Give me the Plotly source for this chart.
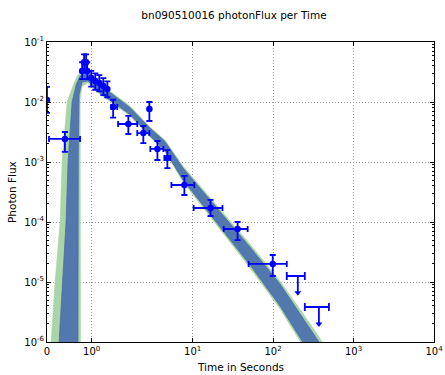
import numpy as np
import plotly.graph_objects as go

# ---------------- data ----------------
# measured points: time [s], flux, time low/high, flux low/high
pt_t    = [0.0, 0.40, 0.786, 0.83, 0.875, 0.90, 0.99, 1.08, 1.17, 1.26, 1.35, 1.48, 1.82, 2.44, 2.9, 3.65, 4.85, 7.9, 16.7, 36.2, 99.0]
pt_t_lo = [0.0, 0.045, 0.786, 0.83, 0.875, 0.90, 0.99, 1.08, 1.17, 1.26, 1.35, 1.436, 1.59, 2.05, 2.9, 2.98, 4.45, 5.45, 10.3, 24.3, 49.7]
pt_t_hi = [0.0, 0.74, 0.786, 0.83, 0.875, 0.90, 0.99, 1.08, 1.17, 1.26, 1.35, 1.571, 2.05, 2.9, 2.9, 4.33, 5.3, 10.5, 23.5, 48.3, 148.0]
pt_v    = [0.0108, 0.00242, 0.033, 0.046, 0.046, 0.033, 0.025, 0.0224, 0.0207, 0.0185, 0.0165, 0.00825, 0.0043, 0.00304, 0.00764, 0.00165, 0.00117, 4.14e-4, 1.71e-4, 7.65e-5, 2.0e-5]
pt_v_lo = [0.0066, 0.00147, 0.024, 0.033, 0.033, 0.024, 0.018, 0.016, 0.015, 0.013, 0.012, 0.0055, 0.00293, 0.00207, 0.00482, 0.00108, 0.00079, 2.82e-4, 1.26e-4, 5.0e-5, 1.26e-5]
pt_v_hi = [0.0178, 0.00316, 0.046, 0.062, 0.062, 0.046, 0.033, 0.030, 0.028, 0.025, 0.022, 0.0109, 0.00585, 0.00398, 0.0100, 0.00224, 0.00158, 5.85e-4, 2.33e-4, 1.0e-4, 2.82e-5]

# upper limits
ul_t    = [203.0, 371.0]
ul_t_lo = [148.0, 248.0]
ul_t_hi = [248.0, 494.0]
ul_v    = [1.26e-5, 3.83e-6]
ul_arrow = [6.6e-6, 2.0e-6]

# model bands (upper edge ascending in time, lower edge descending)
blue_up_t = [0.24, 0.27, 0.359, 0.426, 0.471, 0.561, 0.651, 0.741, 0.853, 0.917, 1.186, 1.521, 1.857, 2.95, 4.53, 7.59, 16.4, 51.6, 122, 296, 1202]
blue_up_v = [4e-7, 1e-6, 1e-5, 1e-4, 1e-3, 1e-2, 0.0192, 0.0271, 0.0305, 0.0305, 0.0192, 0.0126, 0.00809, 0.00369, 0.0022, 7.94e-4, 2.37e-4, 3.83e-5, 9.27e-6, 1.65e-6, 9.6e-8]
blue_lo_t = [1202, 296, 122, 51.6, 16.4, 7.59, 4.53, 2.95, 1.857, 1.521, 1.186, 0.917, 0.786, 0.718, 0.70, 0.69]
blue_lo_v = [3.04e-8, 6.07e-7, 3.98e-6, 1.92e-5, 1.33e-4, 5.01e-4, 1.56e-3, 2.71e-3, 6.19e-3, 9.25e-3, 0.0141, 0.0224, 0.0215, 0.0131, 1.58e-3, 1e-7]

green_up_t = [0.05, 0.09, 0.18, 0.292, 0.337, 0.449, 0.561, 0.673, 0.786, 0.917, 1.186, 1.521, 1.857, 2.95, 4.53, 7.59, 16.4, 51.6, 122, 296, 1202]
green_up_v = [5e-7, 1e-6, 1e-5, 1e-4, 1e-3, 1e-2, 0.0171, 0.0271, 0.0329, 0.0329, 0.0204, 0.0133, 0.00857, 0.00383, 0.00233, 8.57e-4, 2.61e-4, 4.3e-5, 1.04e-5, 1.92e-6, 1.12e-7]
green_lo_t = [1202, 296, 122, 51.6, 16.4, 7.59, 4.53, 2.95, 1.857, 1.521, 1.186, 0.917, 0.786, 0.741, 0.745, 0.755]
green_lo_v = [2.61e-8, 5.21e-7, 3.55e-6, 1.71e-5, 1.21e-4, 4.65e-4, 1.47e-3, 2.61e-3, 5.85e-3, 8.73e-3, 0.0133, 0.0207, 0.0185, 0.0108, 1e-3, 1e-7]

x_tick_vals = [0, 1, 10, 100, 1000, 10000]
x_tick_text = ["0", "10<sup>0</sup>", "10<sup>1</sup>", "10<sup>2</sup>", "10<sup>3</sup>", "10<sup>4</sup>"]
y_tick_vals = [1e-6, 1e-5, 1e-4, 1e-3, 1e-2, 1e-1]
y_tick_text = ["10<sup>-6</sup>", "10<sup>-5</sup>", "10<sup>-4</sup>", "10<sup>-3</sup>", "10<sup>-2</sup>", "10<sup>-1</sup>"]

# ---------------- symlog x scale (linthresh=2, linscale=1) ----------------
LINTHRESH = 2.0
LINSCALE_ADJ = 1.0 / (1.0 - 1.0 / 10.0)


def symlog(t):
    t = np.asarray(t, dtype=float)
    a = np.abs(t)
    out = np.where(a <= LINTHRESH, t * LINSCALE_ADJ,
                   np.sign(t) * LINTHRESH * (LINSCALE_ADJ + np.log10(np.maximum(a, 1e-12) / LINTHRESH)))
    return out


FONT = "DejaVu Sans"
BLUE = "#0000ff"

fig = go.Figure()

# green band
gx = np.concatenate([symlog(green_up_t), symlog(green_lo_t)])
gy = np.concatenate([green_up_v, green_lo_v])
fig.add_trace(go.Scatter(x=gx, y=gy, fill="toself", mode="lines",
                         fillcolor="rgb(170,213,167)", line=dict(color="rgb(170,213,167)", width=0.5),
                         hoverinfo="skip", showlegend=False))
# blue band
bx = np.concatenate([symlog(blue_up_t), symlog(blue_lo_t)])
by = np.concatenate([blue_up_v, blue_lo_v])
fig.add_trace(go.Scatter(x=bx, y=by, fill="toself", mode="lines",
                         fillcolor="rgb(82,120,174)", line=dict(color="rgb(70,105,165)", width=0.7),
                         hoverinfo="skip", showlegend=False))

# data points
px = symlog(pt_t)
ex_p = symlog(pt_t_hi) - px
ex_m = px - symlog(pt_t_lo)
ey_p = np.array(pt_v_hi) - np.array(pt_v)
ey_m = np.array(pt_v) - np.array(pt_v_lo)
fig.add_trace(go.Scatter(
    x=px, y=pt_v, mode="markers",
    marker=dict(color=BLUE, size=6.5, symbol="circle"),
    error_x=dict(type="data", symmetric=False, array=ex_p, arrayminus=ex_m,
                 color=BLUE, thickness=1.8, width=3),
    error_y=dict(type="data", symmetric=False, array=ey_p, arrayminus=ey_m,
                 color=BLUE, thickness=1.8, width=3),
    showlegend=False, hoverinfo="skip"))

# upper limits: horizontal bar + downward arrow
ux = symlog(ul_t)
fig.add_trace(go.Scatter(
    x=ux, y=ul_v, mode="markers",
    marker=dict(color=BLUE, size=1, opacity=0),
    error_x=dict(type="data", symmetric=False, array=symlog(ul_t_hi) - ux, arrayminus=ux - symlog(ul_t_lo),
                 color=BLUE, thickness=1.8, width=4),
    error_y=dict(type="data", symmetric=False, array=[0, 0],
                 arrayminus=np.array(ul_v) - np.array(ul_arrow), color=BLUE, thickness=1.8, width=0),
    showlegend=False, hoverinfo="skip"))
fig.add_trace(go.Scatter(
    x=ux, y=ul_arrow, mode="markers",
    marker=dict(color=BLUE, size=6, symbol="triangle-down"),
    showlegend=False, hoverinfo="skip"))

axis_common = dict(showline=True, linecolor="black", linewidth=1, mirror="allticks",
                   ticks="inside", ticklen=4, tickcolor="black", automargin=False,
                   showgrid=True, gridcolor="rgb(150,150,150)", griddash="1px,2px", gridwidth=1,
                   zeroline=False, tickfont=dict(family=FONT, size=10, color="black"))

fig.update_xaxes(type="linear", range=[0, float(symlog(1e4))],
                 tickmode="array", tickvals=symlog(x_tick_vals).tolist(), ticktext=x_tick_text,
                 **axis_common)
fig.update_yaxes(type="log", range=[-6, -1],
                 tickmode="array", tickvals=y_tick_vals, ticktext=y_tick_text,
                 minor=dict(ticks="inside", ticklen=2, tickcolor="black", showgrid=False, dtick="D1"),
                 **axis_common)

fig.update_layout(
    width=445, height=375,
    margin=dict(l=47, r=11, t=42, b=33),
    paper_bgcolor="white", plot_bgcolor="white",
    title=dict(text="bn090510016 photonFlux per Time", x=234 / 445, xanchor="center", xref="container",
               y=1 - 15 / 375, yanchor="middle", yref="container",
               font=dict(family=FONT, size=10.5, color="black")),
    font=dict(family=FONT, color="black"),
    showlegend=False,
    annotations=[
        dict(text="Time in Seconds", xref="paper", yref="paper", x=0.5, y=-(367 - 342) / 300,
             xanchor="center", yanchor="middle", showarrow=False,
             font=dict(family=FONT, size=10.5, color="black")),
        dict(text="Photon Flux", xref="paper", yref="paper", x=-(47 - 12) / 387, y=0.5,
             xanchor="center", yanchor="middle", showarrow=False, textangle=-90,
             font=dict(family=FONT, size=10.5, color="black")),
    ],
)

fig.write_html("out.html")
